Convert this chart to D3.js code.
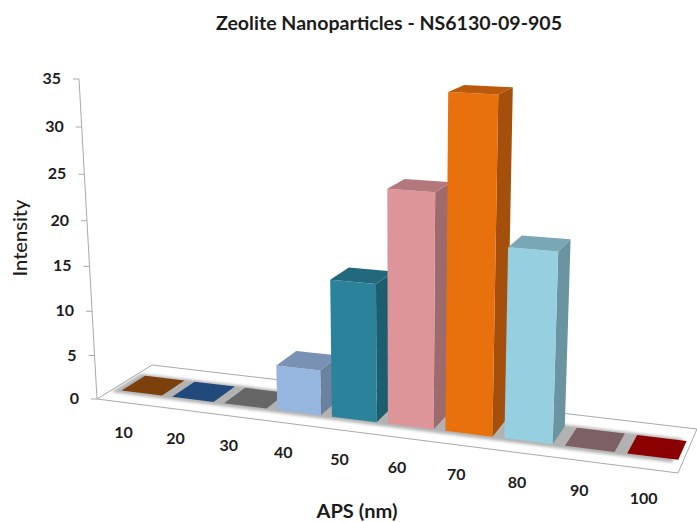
<!DOCTYPE html>
<html><head><meta charset="utf-8">
<script src="https://cdn.jsdelivr.net/npm/d3@7"></script>
<style>html,body{margin:0;padding:0;background:#fff}svg{display:block}text{font-family:Lato,"Open Sans",sans-serif;fill:#1c1c1c}</style>
</head><body><svg id="c" width="697" height="522"></svg>
<script>
const categories=[10,20,30,40,50,60,70,80,90,100];
const intensity=[0,0,0,5,15,25,35,20,0,0];
const barColors=["#7b3f0a","#234a7c","#666666","#96b5df","#2c829b","#dd9599","#e8700a","#96cfe0","#7b6063","#8b0000"];
const yTicks=[0,5,10,15,20,25,30,35];
const titleText="Zeolite Nanoparticles - NS6130-09-905";
const xTitle="APS (nm)", yTitle="Intensity";

const floorQuad=[[97,399],[678,473],[697,429],[152,365]];
const axisTop=[79,79], axisW=-0.056;
const hom=(()=>{const [[x0,y0],[x1,y1],[x2,y2],[x3,y3]]=floorQuad;
 const dx1=x1-x2,dx2=x3-x2,sx=x0-x1+x2-x3,dy1=y1-y2,dy2=y3-y2,sy=y0-y1+y2-y3;
 const d=dx1*dy2-dx2*dy1,g=(sx*dy2-dx2*sy)/d,i=(dx1*sy-sx*dy1)/d;
 return {a:x1-x0+g*x1,b:x3-x0+i*x3,c:x0,d:y1-y0+g*y1,e:y3-y0+i*y3,f:y0,g,i};})();
const cx=axisTop[0]*(1+axisW)-floorQuad[0][0], cy=axisTop[1]*(1+axisW)-floorQuad[0][1];
const h=d3.scaleLinear().domain([0,35]).range([0,1]);
const u=d3.scaleBand().domain(categories).range([0.005,1.005]).paddingInner(0.2).paddingOuter(0.13);
const v=d3.scaleLinear().domain([0,1]).range([0.27,0.70]);
function proj(s,t,val){const k=h(val),w=hom.g*s+hom.i*t+1+axisW*k;
 return [(hom.a*s+hom.b*t+hom.c+cx*k)/w,(hom.d*s+hom.e*t+hom.f+cy*k)/w];}
const svg=d3.select("#c");
const defs=svg.append("defs");
defs.append("filter").attr("id","soft").attr("x","-5%").attr("y","-20%").attr("width","110%").attr("height","140%")
 .append("feGaussianBlur").attr("stdDeviation",1.6);
defs.append("filter").attr("id","mark").attr("x","-10%").attr("y","-10%").attr("width","120%").attr("height","120%")
 .append("feGaussianBlur").attr("stdDeviation",0.45);
const poly=pts=>pts.map(p=>p.map(n=>n.toFixed(1)).join(",")).join(" ");
// floor
svg.append("polygon").attr("points",poly(floorQuad)).attr("fill","#fff").attr("stroke","#a9a9a9").attr("stroke-width",1);
svg.append("polygon").attr("filter","url(#soft)").attr("fill","#b2b2b2")
 .attr("points",poly([proj(0.005,0.2,0),proj(0.985,0.2,0),proj(0.985,0.74,0),proj(0.005,0.74,0)]));
// y axis
const axisG=svg.append("g");
axisG.append("line").attr("x1",proj(0,0,0)[0]).attr("y1",proj(0,0,0)[1]).attr("x2",proj(0,0,35)[0]).attr("y2",proj(0,0,35)[1]).attr("stroke","#a9a9a9");
yTicks.forEach(t=>{const p=proj(0,0,t);
 axisG.append("line").attr("x1",p[0]-6).attr("x2",p[0]).attr("y1",p[1]).attr("y2",p[1]).attr("stroke","#a9a9a9");
 axisG.append("text").attr("x",p[0]-18).attr("y",p[1]+1).attr("text-anchor","end").attr("dominant-baseline","middle")
  .attr("font-size",16).attr("font-weight",700).text(t);});
// bars
const shade=(c,k)=>d3.rgb(c).darker(k).formatHex();
const bars=svg.append("g").attr("filter","url(#mark)");
categories.forEach((cat,i)=>{const val=intensity[i],c=barColors[i];
 const s0=u(cat),s1=s0+u.bandwidth(),t0=v(0),t1=v(1);
 const g=bars.append("g");
 if(val>0){
  g.append("polygon").attr("fill",shade(c,0.95)).attr("points",poly([proj(s1,t0,0),proj(s1,t1,0),proj(s1,t1,val),proj(s1,t0,val)]));
  g.append("polygon").attr("fill",c).attr("points",poly([proj(s0,t0,0),proj(s1,t0,0),proj(s1,t0,val),proj(s0,t0,val)]));
 }
 g.append("polygon").attr("fill",val>0?shade(c,0.6):c).attr("points",poly([proj(s0,t0,val),proj(s1,t0,val),proj(s1,t1,val),proj(s0,t1,val)]));
});
// category labels
categories.forEach(cat=>{const p=proj(u(cat)+u.bandwidth()/2,0,0);
 svg.append("text").attr("x",p[0]-3).attr("y",p[1]+31).attr("text-anchor","middle").attr("dominant-baseline","middle")
  .attr("font-size",16).attr("font-weight",700).text(cat);});
// titles
svg.append("text").attr("x",389).attr("y",30).attr("text-anchor","middle").attr("font-size",18).attr("font-weight",700)
 .attr("textLength",346).attr("lengthAdjust","spacingAndGlyphs").text(titleText);
svg.append("text").attr("x",357).attr("y",518).attr("text-anchor","middle").attr("font-size",18.5).attr("font-weight",700)
 .attr("textLength",81).attr("lengthAdjust","spacingAndGlyphs").text(xTitle);
svg.append("text").attr("transform","translate(27,238) rotate(-90)").attr("text-anchor","middle").attr("font-size",18.5).attr("font-weight",500)
 .attr("textLength",77).attr("lengthAdjust","spacingAndGlyphs").text(yTitle);
</script></body></html>
